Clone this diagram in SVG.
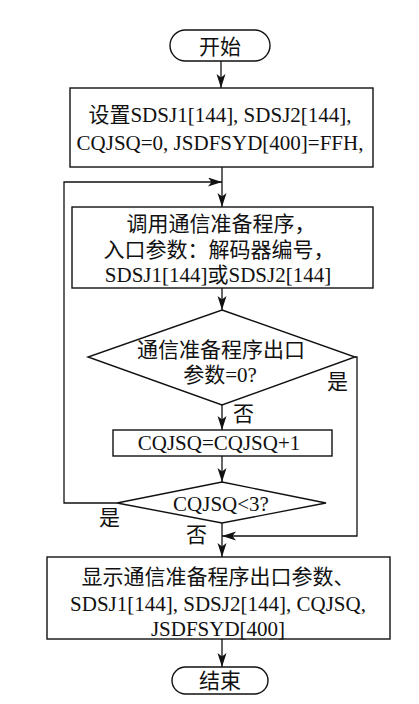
<svg xmlns="http://www.w3.org/2000/svg" width="419" height="704" viewBox="0 0 419 704">
<style>
.s{fill:#fff;stroke:#111;stroke-width:1.4}
.c{fill:none;stroke:#111;stroke-width:1.3}
text{font-family:"Liberation Serif","Noto Sans CJK SC",serif;font-size:21px;fill:#111;text-anchor:middle}
.l{text-anchor:start}
</style>
<defs>
<marker id="a" markerUnits="userSpaceOnUse" markerWidth="16" markerHeight="10" refX="14" refY="4.5" orient="auto">
<path d="M0,0 L14,4.5 L0,9 L3.5,4.5 Z" fill="#111"/>
</marker>
</defs>
<rect width="419" height="704" fill="#fff"/>
<g id="connectors">
<path class="c" d="M221,61 V88" marker-end="url(#a)"/>
<path class="c" d="M222,167 V207" marker-end="url(#a)"/>
<path class="c" d="M117,503 H64 V182 H222" marker-end="url(#a)"/>
<path class="c" d="M222,288 V310" marker-end="url(#a)"/>
<path class="c" d="M222,405 V430" marker-end="url(#a)"/>
<path class="c" d="M222,456 V482" marker-end="url(#a)"/>
<path class="c" d="M222,523 V557" marker-end="url(#a)"/>
<path class="c" d="M355,357 H357 V536 H222" marker-end="url(#a)"/>
<path class="c" d="M222,639 V667" marker-end="url(#a)"/>
</g>
<g id="start">
<rect class="s" x="170" y="30" width="100" height="31" rx="15.5"/>
<text x="220" y="54">开始</text>
</g>
<g id="init">
<rect class="s" x="70" y="88" width="303" height="79"/>
<text x="220" y="122">设置SDSJ1[144], SDSJ2[144],</text>
<text x="220" y="150">CQJSQ=0, JSDFSYD[400]=FFH,</text>
</g>
<g id="call">
<rect class="s" x="72" y="207" width="301" height="81"/>
<text x="221" y="231">调用通信准备程序，</text>
<text x="219" y="257">入口参数：解码器编号，</text>
<text x="218" y="282">SDSJ1[144]或SDSJ2[144]</text>
</g>
<g id="check1">
<polygon class="s" points="222,310 355,357 222,405 88,357"/>
<text x="221" y="357">通信准备程序出口</text>
<text x="220" y="382">参数=0?</text>
</g>
<g id="inc">
<rect class="s" x="113" y="430" width="219" height="26"/>
<text x="219" y="450">CQJSQ=CQJSQ+1</text>
</g>
<g id="check2">
<polygon class="s" points="222,482 326,503 222,523 117,503"/>
<text x="221" y="511">CQJSQ&lt;3?</text>
</g>
<g id="show">
<rect class="s" x="47" y="557" width="343" height="82"/>
<text x="218" y="584">显示通信准备程序出口参数、</text>
<text x="218" y="611">SDSJ1[144], SDSJ2[144], CQJSQ,</text>
<text x="218" y="636">JSDFSYD[400]</text>
</g>
<g id="end">
<rect class="s" x="172" y="667" width="96" height="27" rx="13.5"/>
<text x="220" y="688">结束</text>
</g>
<g id="labels">
<text class="l" x="327" y="389">是</text>
<text class="l" x="233" y="421">否</text>
<text class="l" x="99" y="525">是</text>
<text class="l" x="186" y="542">否</text>
</g>
</svg>
